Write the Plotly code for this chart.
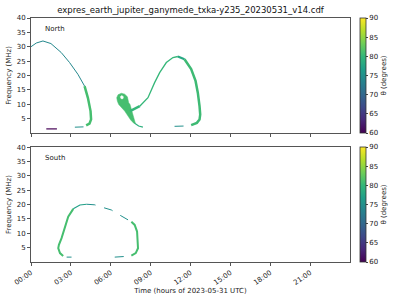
import plotly.graph_objects as go
from plotly.colors import sample_colorscale

# ---------------- data (hours, MHz, theta degrees) ----------------
TITLE = "expres_earth_jupiter_ganymede_txka-y235_20230531_v14.cdf"
tick_hours = [0, 3, 6, 9, 12, 15, 18, 21]
tick_labels = ["00:00", "03:00", "06:00", "09:00", "12:00", "15:00", "18:00", "21:00"]
freq_ticks = [5, 10, 15, 20, 25, 30, 35, 40]
theta_ticks = [60, 65, 70, 75, 80, 85, 90]

# North hemisphere
n_arc1_thin_t = [0.0, 0.4, 0.9, 1.5, 2.27, 2.9, 3.53, 4.03]
n_arc1_thin_f = [30.0, 31.3, 32.0, 31.1, 28.0, 24.5, 20.4, 16.3]
n_arc1_thin_theta = 74
n_arc1_thick_t = [4.03, 4.28, 4.48, 4.52, 4.4, 4.15]
n_arc1_thick_f = [16.3, 12.2, 7.6, 4.7, 3.2, 2.6]
n_arc1_thick_theta = 81
n_arc1_low_t = [3.3, 3.95]
n_arc1_low_f = [2.0, 2.1]
n_arc1_low_theta = 75
n_low60_t = [1.15, 1.95]
n_low60_f = [1.4, 1.4]
n_low60_theta = 60
n_wedge_t = [6.45, 6.55, 6.8, 7.05, 7.25, 7.35, 7.45, 7.6, 7.75, 7.85, 7.75, 7.5, 7.05, 6.6, 6.5, 6.45]
n_wedge_f = [12.25, 13.3, 13.8, 13.5, 12.6, 10.5, 9.9, 7.6, 4.5, 3.4, 3.3, 4.5, 7.6, 9.9, 11.0, 12.25]
n_wedge_theta = 81
n_hole_t = [6.72, 6.83, 6.95, 6.92, 6.78, 6.72]
n_hole_f = [12.6, 13.0, 12.6, 11.9, 11.9, 12.6]
n_tail_t = [7.8, 8.1, 8.42]
n_tail_f = [3.4, 2.4, 2.0]
n_tail_theta = 79
n_rise_t = [7.45, 7.8, 8.18, 8.8, 9.3, 9.68, 10.18, 10.68, 11.05]
n_rise_f = [7.6, 8.3, 9.3, 12.25, 17.5, 21.0, 24.5, 26.25, 26.6]
n_rise_theta = 80
n_fall_t = [11.05, 11.55, 12.05, 12.38, 12.55, 12.68, 12.73, 12.68, 12.48, 12.05]
n_fall_f = [26.6, 25.65, 22.2, 18.1, 14.0, 9.3, 6.4, 4.65, 3.5, 2.7]
n_fall_theta = 80.5
n_arc2_low_t = [10.8, 11.9]
n_arc2_low_f = [2.3, 2.45]
n_arc2_low_theta = 75

# South hemisphere
s_left_t = [2.42, 2.18, 2.05, 2.1, 2.3, 2.55, 2.8, 3.18]
s_left_f = [2.1, 3.1, 4.8, 6.0, 8.3, 12.3, 15.8, 18.5]
s_left_theta = 81
s_top_t = [3.18, 3.68, 4.18]
s_top_f = [18.5, 19.85, 20.1]
s_top_theta = 77
s_topdash_t = [4.18, 4.8, 5.18, 6.05, 6.43, 7.05, 7.55]
s_topdash_f = [20.1, 19.9, 19.3, 18.1, 17.0, 15.2, 14.0]
s_topdash_theta = 75
s_right_t = [7.55, 7.8, 7.98, 8.05, 8.05, 7.88, 7.55]
s_right_f = [14.0, 12.9, 10.6, 7.1, 4.8, 3.1, 2.2]
s_right_theta = 81
s_low1_t = [2.68, 3.05]
s_low1_f = [1.7, 1.7]
s_low2_t = [6.3, 7.3]
s_low2_f = [1.7, 2.0]
s_low_theta = 75

# ---------------- figure ----------------
def col(theta):
    return sample_colorscale("Viridis", [(theta - 60) / 30])[0]

fig = go.Figure()

def line(t, f, theta, width, yaxis, dash="solid"):
    fig.add_trace(go.Scatter(x=t, y=f, mode="lines", xaxis="x", yaxis=yaxis,
                             line=dict(color=col(theta), width=width, dash=dash),
                             showlegend=False, hoverinfo="skip"))

def poly(t, f, color, yaxis):
    fig.add_trace(go.Scatter(x=t, y=f, mode="lines", fill="toself", fillcolor=color,
                             xaxis="x", yaxis=yaxis, line=dict(color=color, width=0.5),
                             showlegend=False, hoverinfo="skip"))

# north
line(n_arc1_thin_t, n_arc1_thin_f, n_arc1_thin_theta, 1.0, "y")
line(n_arc1_thick_t, n_arc1_thick_f, n_arc1_thick_theta, 2.5, "y")
line(n_arc1_low_t, n_arc1_low_f, n_arc1_low_theta, 1.0, "y", "dash")
line(n_low60_t, n_low60_f, n_low60_theta, 1.2, "y")
poly(n_wedge_t, n_wedge_f, col(n_wedge_theta), "y")
poly(n_hole_t, n_hole_f, "white", "y")
line(n_tail_t, n_tail_f, n_tail_theta, 1.2, "y")
line(n_rise_t[:3], n_rise_f[:3], n_rise_theta, 2.5, "y")
line(n_rise_t[2:], n_rise_f[2:], n_rise_theta, 1.3, "y")
line(n_fall_t[:2], n_fall_f[:2], 78, 2.2, "y")
line(n_fall_t[1:], n_fall_f[1:], n_fall_theta, 2.5, "y")
line(n_arc2_low_t, n_arc2_low_f, n_arc2_low_theta, 1.0, "y", "dash")

# south
line(s_left_t, s_left_f, s_left_theta, 2.0, "y2")
line(s_top_t, s_top_f, s_top_theta, 1.2, "y2")
line(s_topdash_t, s_topdash_f, s_topdash_theta, 1.0, "y2", "dash")
line(s_right_t, s_right_f, s_right_theta, 2.0, "y2")
line(s_low1_t, s_low1_f, s_low_theta, 1.0, "y2")
line(s_low2_t, s_low2_f, s_low_theta, 1.0, "y2", "dash")

# dummy traces for colorbars
for ca, ya in (("coloraxis", "y"), ("coloraxis2", "y2")):
    fig.add_trace(go.Scatter(x=[None], y=[None], mode="markers", xaxis="x", yaxis=ya,
                             marker=dict(color=[60], coloraxis=ca), showlegend=False))

font = dict(family="DejaVu Sans", size=7, color="#222")
cb_common = dict(thickness=6, x=1.032, xanchor="left", xpad=0, ypad=0, outlinewidth=0.8,
                 outlinecolor="#333", tickvals=theta_ticks, ticks="outside", ticklen=2,
                 tickfont=font, title=dict(text="θ (degrees)", side="right", font=font))
fig.update_layout(
    width=400, height=300,
    margin=dict(l=31, r=50, t=18, b=38, autoexpand=False),
    paper_bgcolor="white", plot_bgcolor="white",
    font=font,
    title=dict(text=TITLE, xref="paper", x=0.5, xanchor="center", y=0.967, yanchor="middle",
               font=dict(family="DejaVu Sans", size=8.5, color="#111")),
    xaxis=dict(range=[0, 24], tickvals=tick_hours, ticktext=tick_labels, tickangle=-35,
               showline=True, mirror=True, linecolor="#555", linewidth=1, ticks="outside",
               ticklen=3, tickcolor="#555", showgrid=False, zeroline=False, anchor="y2",
               title=dict(text="Time (hours of 2023-05-31 UTC)", font=font, standoff=2)),
    xaxis2=dict(range=[0, 24], tickvals=tick_hours, showticklabels=False, overlaying="x",
                anchor="y", showline=True, mirror=True, linecolor="#555", ticks="outside",
                ticklen=3, tickcolor="#555", showgrid=False, zeroline=False),
    yaxis=dict(domain=[0.529, 1.0], range=[0, 40], tickvals=freq_ticks, showline=True, mirror=True,
               linecolor="#555", ticks="outside", ticklen=3, tickcolor="#555", showgrid=False,
               zeroline=False, anchor="x",
               title=dict(text="Frequency (MHz)", font=font, standoff=4)),
    yaxis2=dict(domain=[0.0, 0.471], range=[0, 40], tickvals=freq_ticks, showline=True, mirror=True,
                linecolor="#555", ticks="outside", ticklen=3, tickcolor="#555", showgrid=False,
                zeroline=False, anchor="x",
                title=dict(text="Frequency (MHz)", font=font, standoff=4)),
    coloraxis=dict(colorscale="Viridis", cmin=60, cmax=90,
                   colorbar=dict(y=1.0, yanchor="top", len=0.471, **cb_common)),
    coloraxis2=dict(colorscale="Viridis", cmin=60, cmax=90,
                    colorbar=dict(y=0.0, yanchor="bottom", len=0.471, **cb_common)),
    annotations=[
        dict(text="North", x=0.038, y=0.955, xref="paper", yref="paper", showarrow=False,
             xanchor="left", yanchor="middle", font=dict(family="DejaVu Sans", size=7, color="#222")),
        dict(text="South", x=0.038, y=0.426, xref="paper", yref="paper", showarrow=False,
             xanchor="left", yanchor="middle", font=dict(family="DejaVu Sans", size=7, color="#222")),
    ],
)
# top panel x ticks (no labels)
fig.add_trace(go.Scatter(x=[None], y=[None], xaxis="x2", yaxis="y", showlegend=False))

fig.write_html("out.html")
